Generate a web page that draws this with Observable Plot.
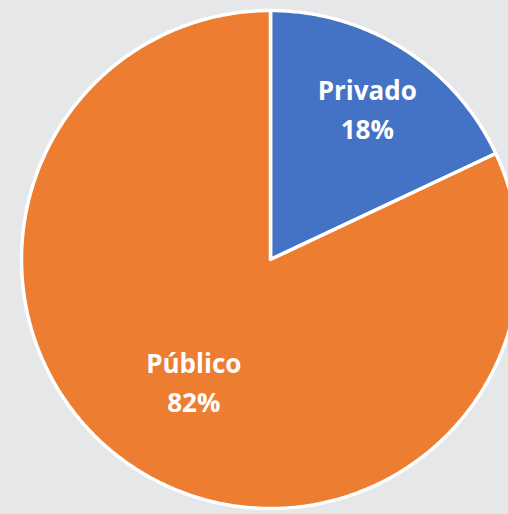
<!DOCTYPE html>
<html>
<head>
<meta charset="utf-8">
<script src="https://cdn.jsdelivr.net/npm/d3@7"></script>
<script src="https://cdn.jsdelivr.net/npm/@observablehq/plot@0.6"></script>
<style>
  html, body { margin: 0; padding: 0; background: #e6e7e8; overflow: hidden; }
  #chart { width: 508px; height: 514px; overflow: hidden; }
</style>
</head>
<body>
<div id="chart"></div>
<script>
const categories = ["Privado", "Público"];
const values = [18, 82];
const percentLabels = ["18%", "82%"];
const colors = ["#4472C4", "#ED7D31"];

// layout (pixels)
const W = 508, H = 514, CX = 270, CY = 259, R = 249;
const labelRadius = {"Privado": 0.725, "Público": 0.575};

const total = d3.sum(values);
let start = 0;
const slicePoints = [];
const labels = [];
categories.forEach((c, i) => {
  const a0 = start / total * 2 * Math.PI;
  const a1 = (start + values[i]) / total * 2 * Math.PI;
  start += values[i];
  slicePoints.push({cat: c, x: 0, y: 0});
  const n = Math.max(2, Math.ceil((a1 - a0) / (Math.PI / 360)));
  for (let k = 0; k <= n; k++) {
    const a = a0 + (a1 - a0) * k / n;
    slicePoints.push({cat: c, x: Math.sin(a), y: Math.cos(a)});
  }
  slicePoints.push({cat: c, x: 0, y: 0});
  const am = (a0 + a1) / 2, lr = labelRadius[c];
  labels.push({cat: c, x: lr * Math.sin(am), y: lr * Math.cos(am), text: c + "\n" + percentLabels[i]});
});

const chart = Plot.plot({
  width: W,
  height: H,
  margin: 0,
  x: {domain: [-CX / R, (W - CX) / R], axis: null},
  y: {domain: [-(H - CY) / R, CY / R], axis: null},
  color: {domain: categories, range: colors},
  style: {background: "#e6e7e8", overflow: "hidden"},
  marks: [
    Plot.line(slicePoints, {x: "x", y: "y", z: "cat", fill: "cat", stroke: "white", strokeWidth: 3.5, strokeLinejoin: "miter", curve: "linear"}),
    Plot.text(labels, {x: "x", y: "y", text: "text", fill: "white", fontSize: 26, fontWeight: "bold", fontFamily: "Open Sans", lineHeight: 1.5, lineAnchor: "middle", textAnchor: "middle"})
  ]
});
document.getElementById("chart").appendChild(chart);
</script>
</body>
</html>
